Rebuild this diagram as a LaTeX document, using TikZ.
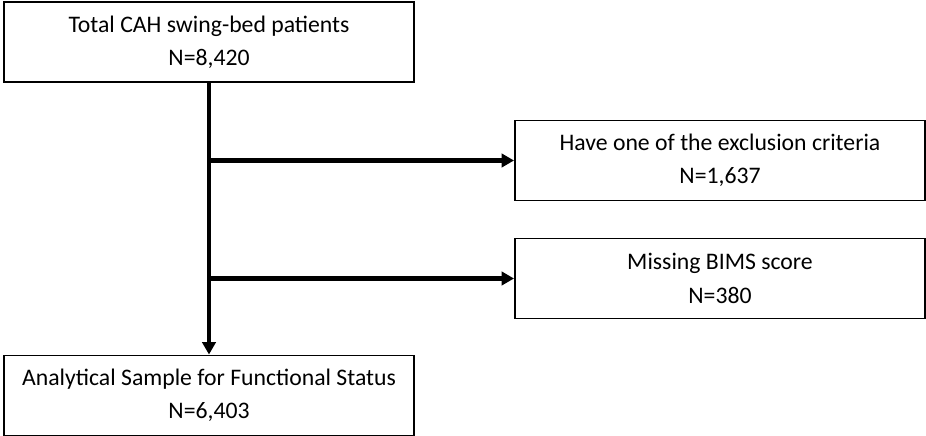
\documentclass[tikz,border=0pt]{standalone}
\usepackage{fontspec}
\setmainfont{Carlito}
\usetikzlibrary{arrows.meta}

\tikzset{
  flowbox/.style={draw, line width=1.1pt, minimum width=8.2cm, minimum height=1.6cm,
    inner sep=0pt, align=center, font=\fontsize{13.5}{19}\selectfont},
  flowarrow/.style={-{Triangle[length=7pt,width=7.5pt]}, line width=2.3pt}
}

\begin{document}
\begin{tikzpicture}
  \useasboundingbox (0,0) rectangle (18.52,8.72);

  \node[flowbox] (total) at (4.18,7.88) {Total CAH swing-bed patients\\N=8,420};
  \node[flowbox] (excl) at (14.4,5.51) {Have one of the exclusion criteria\\N=1,637};
  \node[flowbox] (bims) at (14.4,3.15) {Missing BIMS score\\N=380};
  \node[flowbox] (sample) at (4.18,0.81) {Analytical Sample for Functional Status\\N=6,403};

  \path[flowarrow] (total.south) edge (sample.north);
  \path[flowarrow] (total.south |- excl.west) edge (excl.west);
  \path[flowarrow] (total.south |- bims.west) edge (bims.west);

\end{tikzpicture}
\end{document}
